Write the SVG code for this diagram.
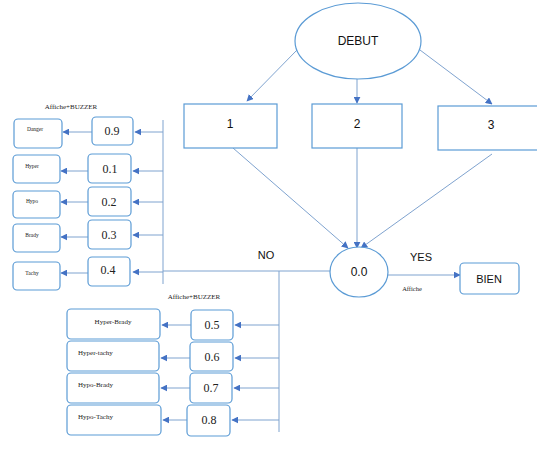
<svg xmlns="http://www.w3.org/2000/svg" width="537" height="460" viewBox="0 0 537 460">
<style>
.bx{fill:#fff;stroke:#5b9bd5;stroke-width:1.2}
.ln{fill:none;stroke:#7fa3cf;stroke-width:1}
.sa{font-family:"Liberation Sans",Arial,sans-serif;fill:#111}
.sf{font-family:"Liberation Serif","Times New Roman",serif;fill:#222}
</style>
<defs>
<marker id="ah" viewBox="0 0 10 10" refX="9" refY="5" markerWidth="7" markerHeight="7" orient="auto" markerUnits="userSpaceOnUse">
<path d="M0,0 L10,5 L0,10 z" fill="#4472c4"/>
</marker>
</defs>
<rect width="537" height="460" fill="#fff"/>
<g id="connectors">
<line class="ln" x1="297" y1="50" x2="247" y2="101" marker-end="url(#ah)"/>
<line class="ln" x1="357" y1="79" x2="357" y2="103" marker-end="url(#ah)"/>
<line class="ln" x1="420" y1="50" x2="492" y2="104" marker-end="url(#ah)"/>
<line class="ln" x1="233" y1="148" x2="348" y2="248" marker-end="url(#ah)"/>
<line class="ln" x1="357" y1="148" x2="357" y2="248" marker-end="url(#ah)"/>
<line class="ln" x1="492" y1="154" x2="361" y2="248" marker-end="url(#ah)"/>
<line class="ln" x1="378" y1="275" x2="460" y2="275" marker-end="url(#ah)"/>
<line class="ln" x1="330" y1="271" x2="163" y2="271"/>
<line class="ln" x1="163" y1="120" x2="163" y2="284"/>
<line class="ln" x1="279" y1="271" x2="279" y2="432"/>
<line class="ln" x1="163" y1="132" x2="135" y2="132" marker-end="url(#ah)"/>
<line class="ln" x1="163" y1="171" x2="133" y2="171" marker-end="url(#ah)"/>
<line class="ln" x1="163" y1="202" x2="133" y2="202" marker-end="url(#ah)"/>
<line class="ln" x1="163" y1="235" x2="133" y2="235" marker-end="url(#ah)"/>
<line class="ln" x1="163" y1="272" x2="133" y2="272" marker-end="url(#ah)"/>
<line class="ln" x1="92" y1="132" x2="63" y2="132" marker-end="url(#ah)"/>
<line class="ln" x1="88" y1="171" x2="61" y2="171" marker-end="url(#ah)"/>
<line class="ln" x1="88" y1="202" x2="61" y2="202" marker-end="url(#ah)"/>
<line class="ln" x1="88" y1="237" x2="61" y2="237" marker-end="url(#ah)"/>
<line class="ln" x1="88" y1="273" x2="61" y2="273" marker-end="url(#ah)"/>
<line class="ln" x1="279" y1="325" x2="235" y2="325" marker-end="url(#ah)"/>
<line class="ln" x1="279" y1="358" x2="235" y2="358" marker-end="url(#ah)"/>
<line class="ln" x1="279" y1="388" x2="234" y2="388" marker-end="url(#ah)"/>
<line class="ln" x1="279" y1="420" x2="232" y2="420" marker-end="url(#ah)"/>
<line class="ln" x1="191" y1="325" x2="162" y2="325" marker-end="url(#ah)"/>
<line class="ln" x1="190" y1="358" x2="161" y2="358" marker-end="url(#ah)"/>
<line class="ln" x1="190" y1="388" x2="161" y2="388" marker-end="url(#ah)"/>
<line class="ln" x1="187" y1="420" x2="163" y2="420" marker-end="url(#ah)"/>
</g>
<g id="debut"><ellipse class="bx" cx="358" cy="41" rx="63" ry="38"/><text class="sa" x="358" y="45" font-size="12" text-anchor="middle">DEBUT</text></g>
<g id="n1"><rect class="bx" x="184" y="104" width="93" height="44"/><text class="sa" x="230" y="128" font-size="12" text-anchor="middle">1</text></g>
<g id="n2"><rect class="bx" x="312" y="104" width="90" height="44"/><text class="sa" x="357" y="128" font-size="12" text-anchor="middle">2</text></g>
<g id="n3"><rect class="bx" x="438" y="106" width="104" height="44"/><text class="sa" x="491" y="129" font-size="12" text-anchor="middle">3</text></g>
<g id="n00"><ellipse class="bx" cx="359" cy="272" rx="29" ry="25"/><text class="sa" x="359" y="276" font-size="12" text-anchor="middle">0.0</text></g>
<g id="bien"><rect class="bx" x="460" y="263" width="59" height="31" rx="4"/><text class="sa" x="489" y="283" font-size="11" text-anchor="middle">BIEN</text></g>
<g id="labels">
<text class="sa" x="266" y="259" font-size="11" text-anchor="middle">NO</text>
<text class="sa" x="421" y="261" font-size="11" text-anchor="middle">YES</text>
<text class="sf" x="412" y="291" font-size="6.5" text-anchor="middle">Affiche</text>
<text class="sf" x="71" y="109" font-size="7" text-anchor="middle">Affiche+BUZZER</text>
<text class="sf" x="194" y="299" font-size="7" text-anchor="middle">Affiche+BUZZER</text>
</g>
<g id="v09"><rect class="bx" x="92" y="117" width="41" height="28" rx="4"/><text class="sf" x="112" y="135" font-size="12" text-anchor="middle">0.9</text></g>
<g id="v01"><rect class="bx" x="88" y="154" width="43" height="29" rx="4"/><text class="sf" x="110" y="173" font-size="12" text-anchor="middle">0.1</text></g>
<g id="v02"><rect class="bx" x="88" y="187" width="43" height="29" rx="4"/><text class="sf" x="109" y="206" font-size="12" text-anchor="middle">0.2</text></g>
<g id="v03"><rect class="bx" x="88" y="220" width="43" height="29" rx="4"/><text class="sf" x="109" y="239" font-size="12" text-anchor="middle">0.3</text></g>
<g id="v04"><rect class="bx" x="88" y="257" width="42" height="29" rx="4"/><text class="sf" x="108" y="274" font-size="12" text-anchor="middle">0.4</text></g>
<g id="danger"><rect class="bx" x="14" y="119" width="48" height="29" rx="4"/><text class="sf" x="35" y="131" font-size="5.5" text-anchor="middle">Danger</text></g>
<g id="hyper"><rect class="bx" x="13" y="155" width="47" height="28" rx="4"/><text class="sf" x="32" y="168" font-size="5.5" text-anchor="middle">Hyper</text></g>
<g id="hypo"><rect class="bx" x="13" y="191" width="47" height="27" rx="4"/><text class="sf" x="32" y="203" font-size="5.5" text-anchor="middle">Hypo</text></g>
<g id="brady"><rect class="bx" x="13" y="224" width="47" height="28" rx="4"/><text class="sf" x="32" y="237" font-size="5.5" text-anchor="middle">Brady</text></g>
<g id="tachy"><rect class="bx" x="13" y="262" width="47" height="28" rx="4"/><text class="sf" x="32" y="275" font-size="5.5" text-anchor="middle">Tachy</text></g>
<g id="v05"><rect class="bx" x="191" y="310" width="42" height="30" rx="4"/><text class="sf" x="212" y="329" font-size="12" text-anchor="middle">0.5</text></g>
<g id="v06"><rect class="bx" x="190" y="342" width="43" height="29" rx="4"/><text class="sf" x="212" y="361" font-size="12" text-anchor="middle">0.6</text></g>
<g id="v07"><rect class="bx" x="190" y="373" width="42" height="30" rx="4"/><text class="sf" x="211" y="392" font-size="12" text-anchor="middle">0.7</text></g>
<g id="v08"><rect class="bx" x="187" y="405" width="43" height="31" rx="4"/><text class="sf" x="209" y="424" font-size="12" text-anchor="middle">0.8</text></g>
<g id="hyperbrady"><rect class="bx" x="67" y="309" width="93" height="30" rx="4"/><text class="sf" x="113" y="324" font-size="7" text-anchor="middle">Hyper-Brady</text></g>
<g id="hypertachy"><rect class="bx" x="67" y="341" width="92" height="30" rx="4"/><text class="sf" x="78" y="355" font-size="7">Hyper-tachy</text></g>
<g id="hypobrady"><rect class="bx" x="67" y="373" width="92" height="30" rx="4"/><text class="sf" x="78" y="387" font-size="7">Hypo-Brady</text></g>
<g id="hypotachy"><rect class="bx" x="67" y="405" width="94" height="30" rx="4"/><text class="sf" x="78" y="419" font-size="7">Hypo-Tachy</text></g>
</svg>
